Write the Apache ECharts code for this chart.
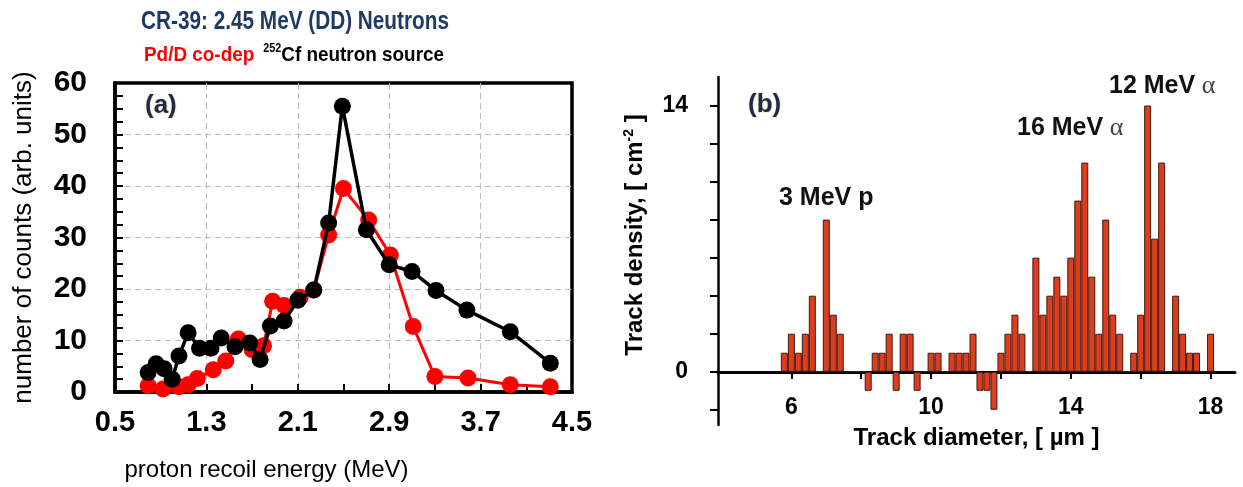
<!DOCTYPE html>
<html>
<head>
<meta charset="utf-8">
<script src="https://cdn.jsdelivr.net/npm/echarts@6/dist/echarts.min.js"></script>
<style>
    html, body { margin: 0; padding: 0; background: #fff; }
    #chart { width: 1243px; height: 487px; }
</style>
</head>
<body>
<div id="chart"></div>
<script>
    // (a) proton recoil spectra
    const pdEnergy = [0.79, 0.92, 1.06, 1.14, 1.22, 1.36, 1.47, 1.58, 1.70, 1.80, 1.88, 1.98, 2.12, 2.24, 2.37, 2.50, 2.72, 2.91, 3.11, 3.30, 3.59, 3.96, 4.31]
    const pdCounts = [1.2, 0.6, 1.0, 1.4, 2.6, 4.3, 6.0, 10.3, 8.2, 9.0, 17.6, 16.8, 18.4, 19.8, 30.5, 39.5, 33.4, 26.6, 12.7, 3.0, 2.7, 1.4, 1.0]
    const cfEnergy = [0.79, 0.86, 0.93, 1.00, 1.06, 1.14, 1.24, 1.34, 1.43, 1.55, 1.68, 1.77, 1.86, 1.98, 2.10, 2.24, 2.37, 2.49, 2.70, 2.90, 3.10, 3.31, 3.58, 3.96, 4.31]
    const cfCounts = [3.8, 5.5, 4.5, 2.5, 7.0, 11.5, 8.5, 8.5, 10.5, 8.8, 9.5, 6.3, 12.8, 13.8, 17.8, 19.8, 32.8, 55.5, 31.5, 24.7, 23.4, 19.7, 15.9, 11.7, 5.6]

    // (b) track diameter histogram
    const diameters = [5.8, 6.0, 6.2, 6.4, 6.6, 6.8, 7.0, 7.2, 7.4, 7.6,
        7.8, 8.0, 8.2, 8.4, 8.6, 8.8, 9.0, 9.2, 9.4, 9.6,
        9.8, 10.0, 10.2, 10.4, 10.6, 10.8, 11.0, 11.2, 11.4, 11.6,
        11.8, 12.0, 12.2, 12.4, 12.6, 12.8, 13.0, 13.2, 13.4, 13.6,
        13.8, 14.0, 14.2, 14.4, 14.6, 14.8, 15.0, 15.2, 15.4, 15.6,
        15.8, 16.0, 16.2, 16.4, 16.6, 16.8, 17.0, 17.2, 17.4, 17.6,
        17.8, 18.0]
    const density = [1, 2, 1, 2, 4, 0, 8, 3, 2, 0,
        0, 0, -1, 1, 1, 2, -1, 2, 2, -1,
        0, 1, 1, 0, 1, 1, 1, 2, -1, -1,
        -2, 1, 2, 3, 2, 0, 6, 3, 4, 5,
        4, 6, 9, 11, 5, 2, 8, 3, 2, 0,
        1, 3, 14, 7, 11, 0, 4, 2, 1, 1,
        0, 2]

    const energyTicks = [0.5, 1.3, 2.1, 2.9, 3.7, 4.5]
    const diamLabels = [6, 10, 14, 18]
    const diamTicks = [6, 8, 10, 12, 14, 16, 18]
    const densityLabels = [0, 14]
    const densityTicks = [-2, 0, 2, 4, 6, 8, 10, 12, 14]

    const NARROW = '"Liberation Sans Narrow", "Arial Narrow", "Liberation Sans", Arial, sans-serif'
    const SANS = '"Liberation Sans", Arial, sans-serif'
    const SERIF = '"Liberation Serif", "DejaVu Serif", serif'

    const myChart = echarts.init(document.getElementById('chart'))

    const zip = (xs, ys) => xs.map((x, i) => [x, ys[i]])

    const option = {
        animation: false,
        grid: [
            { left: 115, top: 83, right: 671, bottom: 95, show: true, borderWidth: 3.5, borderColor: '#000', outerBoundsMode: 'none', containLabel: false },
            { left: 718, top: 77, right: 8, bottom: 62, outerBoundsMode: 'none', containLabel: false }
        ],
        xAxis: [
            {
                gridIndex: 0,
                type: 'value',
                min: 0.5,
                max: 4.5,
                interval: 0.8,
                name: 'proton recoil energy (MeV)',
                nameLocation: 'middle',
                nameGap: 66,
                nameTextStyle: { fontFamily: NARROW, fontSize: 24, color: '#000', padding: [0, 154, 0, 0] },
                axisLine: { lineStyle: { color: '#000', width: 3.5 } },
                axisTick: { inside: true, length: 8, lineStyle: { color: '#000', width: 2 } },
                minorTick: { show: true, splitNumber: 2, length: 8, lineStyle: { color: '#000', width: 2 } },
                axisLabel: {
                    customValues: energyTicks,
                    margin: 16,
                    fontFamily: NARROW,
                    fontWeight: 'bold',
                    fontSize: 29,
                    color: '#000',
                    formatter: v => v.toFixed(1)
                },
                splitLine: { show: true, showMinLine: false, showMaxLine: false, lineStyle: { color: '#bbb', type: [6, 4], width: 1 } }
            },
            {
                gridIndex: 1,
                type: 'value',
                min: 3.9,
                max: 18.7,
                offset: -53,
                name: 'Track diameter, [ µm ]',
                nameLocation: 'middle',
                nameGap: 54,
                nameTextStyle: { fontFamily: SANS, fontWeight: 'bold', fontSize: 24, color: '#000' },
                axisLine: { onZero: false, lineStyle: { color: '#000', width: 3 } },
                axisTick: { customValues: diamTicks, length: 7, lineStyle: { color: '#000', width: 2 } },
                axisLabel: {
                    customValues: diamLabels,
                    margin: 24,
                    fontFamily: SANS,
                    fontWeight: 'bold',
                    fontSize: 23,
                    color: '#000'
                },
                splitLine: { show: false }
            }
        ],
        yAxis: [
            {
                gridIndex: 0,
                type: 'value',
                min: 0,
                max: 60,
                interval: 10,
                name: 'number of counts (arb. units)',
                nameLocation: 'middle',
                nameGap: 78,
                nameTextStyle: { fontFamily: NARROW, fontSize: 26, color: '#000' },
                axisLine: { lineStyle: { color: '#000', width: 3.5 } },
                axisTick: { inside: true, length: 8, lineStyle: { color: '#000', width: 2 } },
                minorTick: { show: true, splitNumber: 4, length: 8, lineStyle: { color: '#000', width: 2 } },
                axisLabel: {
                    margin: 28,
                    fontFamily: NARROW,
                    fontWeight: 'bold',
                    fontSize: 30,
                    color: '#000'
                },
                splitLine: { show: true, showMinLine: false, showMaxLine: false, lineStyle: { color: '#bbb', type: [6, 4], width: 1 } }
            },
            {
                gridIndex: 1,
                type: 'value',
                min: -2.8,
                max: 15.5,
                name: '{n|Track density, [ cm}{s|-2}{n| ]}',
                nameLocation: 'middle',
                nameGap: 70,
                nameTextStyle: {
                    padding: [0, 0, 0, 32],
                    rich: {
                        n: { fontFamily: SANS, fontWeight: 'bold', fontSize: 24, color: '#000', lineHeight: 26 },
                        s: { fontFamily: SANS, fontWeight: 'bold', fontSize: 14, color: '#000', verticalAlign: 'top', lineHeight: 26 }
                    }
                },
                axisLine: { lineStyle: { color: '#000', width: 2.5 } },
                axisTick: { customValues: densityTicks, length: 8, lineStyle: { color: '#000', width: 2 } },
                axisLabel: {
                    customValues: densityLabels,
                    margin: 30,
                    fontFamily: SANS,
                    fontWeight: 'bold',
                    fontSize: 23,
                    color: '#000'
                },
                splitLine: { show: false }
            }
        ],
        graphic: [
            {
                type: 'text', x: 295, y: 22, scaleX: 0.83, originX: 0,
                style: { text: 'CR-39: 2.45 MeV (DD) Neutrons', font: 'bold 25px ' + NARROW, fill: '#1f3a63', align: 'center', verticalAlign: 'middle' }
            },
            {
                type: 'text', x: 294, y: 55, scaleX: 0.9, originX: 0,
                style: {
                    text: '{r|Pd/D co-dep}   {s|252}{k|Cf neutron source}',
                    align: 'center',
                    verticalAlign: 'middle',
                    rich: {
                        r: { font: 'bold 21px ' + NARROW, fill: '#ff0000', lineHeight: 24 },
                        s: { font: 'bold 12px ' + NARROW, fill: '#000', verticalAlign: 'top', lineHeight: 24 },
                        k: { font: 'bold 21px ' + NARROW, fill: '#000', lineHeight: 24 }
                    }
                }
            },
            {
                type: 'text', x: 145, y: 106,
                style: { text: '(a)', font: 'bold 26px ' + SANS, fill: '#1b2b4b', verticalAlign: 'middle', textShadowColor: 'rgba(220,140,40,0.6)', textShadowBlur: 2 }
            },
            {
                type: 'text', x: 748, y: 105,
                style: { text: '(b)', font: 'bold 26px ' + SANS, fill: '#1b2b4b', verticalAlign: 'middle', textShadowColor: 'rgba(220,140,40,0.6)', textShadowBlur: 2 }
            },
            {
                type: 'text', x: 779, y: 198,
                style: { text: '3 MeV p', font: 'bold 25px ' + SANS, fill: '#111', verticalAlign: 'middle' }
            },
            {
                type: 'text', x: 1017, y: 128,
                style: {
                    text: '{t|16 MeV}  {a|α}',
                    verticalAlign: 'middle',
                    rich: {
                        t: { font: 'bold 25px ' + SANS, fill: '#111' },
                        a: { font: '26px ' + SERIF, fill: '#444' }
                    }
                }
            },
            {
                type: 'text', x: 1109, y: 86,
                style: {
                    text: '{t|12 MeV}  {a|α}',
                    verticalAlign: 'middle',
                    rich: {
                        t: { font: 'bold 25px ' + SANS, fill: '#111' },
                        a: { font: '26px ' + SERIF, fill: '#444' }
                    }
                }
            }
        ],
        series: [
            {
                name: 'Pd/D co-dep',
                type: 'line',
                xAxisIndex: 0,
                yAxisIndex: 0,
                data: zip(pdEnergy, pdCounts),
                symbol: 'circle',
                symbolSize: 17,
                lineStyle: { color: '#ff0000', width: 3 },
                itemStyle: { color: '#ff0000' },
                z: 3
            },
            {
                name: '252Cf neutron source',
                type: 'line',
                xAxisIndex: 0,
                yAxisIndex: 0,
                data: zip(cfEnergy, cfCounts),
                symbol: 'circle',
                symbolSize: 17,
                lineStyle: { color: '#000', width: 3.5 },
                itemStyle: { color: '#000' },
                z: 4
            },
            {
                name: 'Track density',
                type: 'bar',
                xAxisIndex: 1,
                yAxisIndex: 1,
                data: zip(diameters, density),
                barWidth: 7,
                itemStyle: { color: '#dc3d1f', borderColor: '#3f1a0e', borderWidth: 1 },
                z: 2
            }
        ]
    }
    myChart.setOption(option)
</script>
</body>
</html>
